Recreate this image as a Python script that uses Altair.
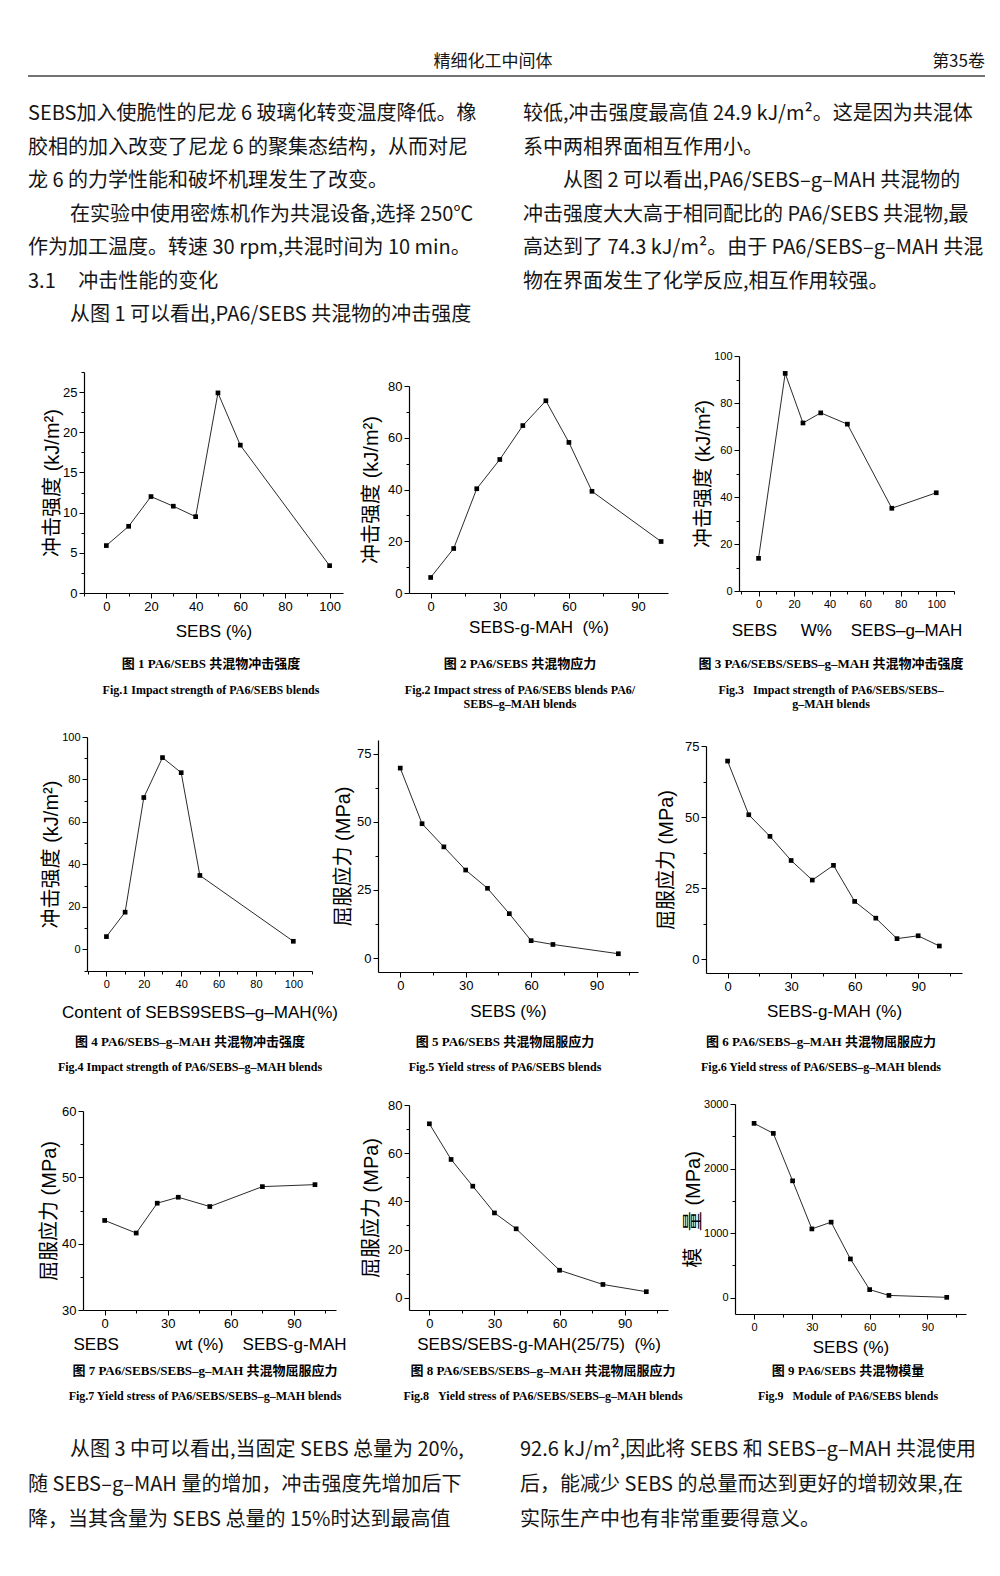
import math
import altair as alt
import pandas as pd

CJK = "Noto Sans CJK SC"
SANS = "Liberation Sans, Noto Sans CJK SC"
SERIF = "Liberation Serif, Noto Sans CJK SC"
NB = "\u00a0"

# ---------------- page text ----------------
header_center = ["精细化工中间体"]
header_right = ["第35卷"]

top_left_lines = [
    "SEBS加入使脆性的尼龙 6 玻璃化转变温度降低。橡",
    "胶相的加入改变了尼龙 6 的聚集态结构，从而对尼",
    "龙 6 的力学性能和破坏机理发生了改变。",
    "在实验中使用密炼机作为共混设备,选择 250℃",
    "作为加工温度。转速 30 rpm,共混时间为 10 min。",
    "3.1" + NB * 5 + "冲击性能的变化",
    "从图 1 可以看出,PA6/SEBS 共混物的冲击强度",
]
top_left_indent = [0, 0, 0, 1, 0, 0, 1]
top_right_lines = [
    "较低,冲击强度最高值 24.9 kJ/m²。这是因为共混体",
    "系中两相界面相互作用小。",
    "从图 2 可以看出,PA6/SEBS–g–MAH 共混物的",
    "冲击强度大大高于相同配比的 PA6/SEBS 共混物,最",
    "高达到了 74.3 kJ/m²。由于 PA6/SEBS–g–MAH 共混",
    "物在界面发生了化学反应,相互作用较强。",
]
top_right_indent = [0, 0, 1, 0, 0, 0]
bottom_left_lines = [
    "从图 3 中可以看出,当固定 SEBS 总量为 20%,",
    "随 SEBS–g–MAH 量的增加，冲击强度先增加后下",
    "降，当其含量为 SEBS 总量的 15%时达到最高值",
]
bottom_left_indent = [1, 0, 0]
bottom_right_lines = [
    "92.6 kJ/m²,因此将 SEBS 和 SEBS–g–MAH 共混使用",
    "后，能减少 SEBS 的总量而达到更好的增韧效果,在",
    "实际生产中也有非常重要得意义。",
]
bottom_right_indent = [0, 0, 0]

# ---------------- chart data ----------------
c1_x = [0, 10, 20, 30, 40, 50, 60, 100]
c1_y = [5.9, 8.3, 12.0, 10.8, 9.5, 24.9, 18.4, 3.4]
c2_x = [0, 10, 20, 30, 40, 50, 60, 70, 100]
c2_y = [6.0, 17.2, 40.3, 51.6, 64.7, 74.3, 58.2, 39.3, 19.9]
c3_x = [0, 15, 25, 35, 50, 75, 100]
c3_y = [13.9, 92.6, 71.5, 75.8, 71.0, 35.2, 41.8]
c4_x = [0, 10, 20, 30, 40, 50, 100]
c4_y = [6.0, 17.5, 71.5, 90.3, 83.2, 34.8, 3.8]
c5_x = [0, 10, 20, 30, 40, 50, 60, 70, 100]
c5_y = [69.7, 49.3, 40.8, 32.3, 25.6, 16.3, 6.4, 5.0, 1.6]
c6_x = [0, 10, 20, 30, 40, 50, 60, 70, 80, 90, 100]
c6_y = [69.7, 50.8, 43.2, 34.7, 27.8, 33.0, 20.3, 14.4, 7.2, 8.2, 4.6]
c7_x = [0, 15, 25, 35, 50, 75, 100]
c7_y = [43.5, 41.6, 46.1, 47.0, 45.6, 48.6, 48.9]
c8_x = [0, 10, 20, 30, 40, 60, 80, 100]
c8_y = [72.2, 57.4, 46.3, 35.2, 28.6, 11.4, 5.5, 2.5]
c9_x = [0, 10, 20, 30, 40, 50, 60, 70, 100]
c9_y = [2700, 2545, 1810, 1065, 1170, 600, 125, 35, 5]

y_impact = "冲击强度 (kJ/m²)"
y_yield = "屈服应力 (MPa)"
y_mod = "模" + NB * 3 + "量 (MPa)"

x_titles = [
    "SEBS (%)",
    "SEBS-g-MAH" + NB * 2 + "(%)",
    "SEBS" + NB * 5 + "W%" + NB * 4 + "SEBS–g–MAH",
    "Content of SEBS9SEBS–g–MAH(%)",
    "SEBS (%)",
    "SEBS-g-MAH (%)",
    "SEBS" + NB * 12 + "wt (%)" + NB * 4 + "SEBS-g-MAH",
    "SEBS/SEBS-g-MAH(25/75)" + NB * 2 + "(%)",
    "SEBS (%)",
]
cap_cn = [
    "图 1  PA6/SEBS 共混物冲击强度",
    "图 2  PA6/SEBS 共混物应力",
    "图 3   PA6/SEBS/SEBS–g–MAH 共混物冲击强度",
    "图 4  PA6/SEBS–g–MAH 共混物冲击强度",
    "图 5  PA6/SEBS 共混物屈服应力",
    "图 6  PA6/SEBS–g–MAH 共混物屈服应力",
    "图 7  PA6/SEBS/SEBS–g–MAH 共混物屈服应力",
    "图 8  PA6/SEBS/SEBS–g–MAH 共混物屈服应力",
    "图 9  PA6/SEBS 共混物模量",
]
cap_en = [
    ["Fig.1 Impact strength of PA6/SEBS blends"],
    ["Fig.2  Impact stress of PA6/SEBS blends PA6/", "SEBS–g–MAH blends"],
    ["Fig.3" + NB * 3 + "Impact strength of PA6/SEBS/SEBS–", "g–MAH blends"],
    ["Fig.4  Impact strength of PA6/SEBS–g–MAH blends"],
    ["Fig.5  Yield stress of PA6/SEBS blends"],
    ["Fig.6  Yield stress of PA6/SEBS–g–MAH blends"],
    ["Fig.7 Yield stress of PA6/SEBS/SEBS–g–MAH blends"],
    ["Fig.8" + NB * 3 + "Yield stress of PA6/SEBS/SEBS–g–MAH blends"],
    ["Fig.9" + NB * 3 + "Module of PA6/SEBS blends"],
]

# ---------------- layout (page pixels) ----------------
W, H, M = 984, 1560, 8
# plot rectangles: left, right, top, bottom
GEOM = [
    (84, 343, 372, 593), (409, 668, 386, 593), (739, 954, 356, 591),
    (87, 312, 737, 971), (378, 638, 740, 972), (706, 962, 746, 973),
    (83, 336, 1111, 1310), (409, 668, 1105, 1310), (735, 966, 1104, 1314),
]
CAP_CX = [211, 520, 831, 190, 505, 821, 205, 543, 848]
CAP_CN_Y = [664, 664, 664, 1042, 1042, 1042, 1371, 1371, 1371]
CAP_EN_Y = [690, 690, 690, 1067, 1067, 1067, 1396, 1396, 1396]


def tick_values(lo, hi, step):
    k = math.ceil(lo / step - 1e-9)
    vals = []
    while k * step <= hi + 1e-9:
        vals.append(round(k * step, 6))
        k += 1
    return vals


def make_axis(domain, major, minor, title, tp, orient, offset, lfs):
    return alt.Axis(
        values=tick_values(domain[0], domain[1], minor),
        labelExpr=f"abs(datum.value % {major}) < 0.000001 ? datum.label : ''",
        tickSize={"condition": {"test": f"abs(datum.value % {major}) > 0.000001", "value": 3}, "value": 5},
        format="d", title=title, titlePadding=tp, grid=False, labelFontSize=lfs,
        labelOverlap=False, labelFlush=False, orient=orient, offset=offset,
    )


def make_plot(i, xs, ys, xd, yd, xmaj, xmin, ymaj, ymin, ytitle, xtp, ytp, lfs=13):
    L, R, T, B = GEOM[i]
    df = pd.DataFrame({"x": xs, "y": ys})
    base = alt.Chart(df).encode(
        x=alt.X("x:Q", scale=alt.Scale(domain=xd, range=[L - M, R - M], nice=False, zero=False),
                axis=make_axis(xd, xmaj, xmin, x_titles[i], xtp, "bottom", (B - M) - H, lfs)),
        y=alt.Y("y:Q", scale=alt.Scale(domain=yd, range=[B - M, T - M], nice=False, zero=False),
                axis=make_axis(yd, ymaj, ymin, ytitle, ytp, "left", -(L - M), lfs)),
    )
    line = base.mark_line(color="#2b2b2b", strokeWidth=1)
    pts = base.mark_point(shape="square", filled=True, size=22, color="black", opacity=1)
    return alt.layer(line, pts)


def text_layer(left, left_ind, right, right_ind, x_left, x_right, y_first, y_step):
    rows = []
    for k, (t, ind) in enumerate(zip(left, left_ind)):
        rows.append({"px": x_left + 42 * ind, "py": y_first + k * y_step, "t": t})
    for k, (t, ind) in enumerate(zip(right, right_ind)):
        rows.append({"px": x_right + 40 * ind, "py": y_first + k * y_step, "t": t})
    return alt.Chart(pd.DataFrame(rows)).mark_text(
        align="left", baseline="middle", font=CJK, fontSize=20, color="#151515"
    ).encode(x=alt.X("px:Q", scale=None), y=alt.Y("py:Q", scale=None), text="t:N")


# ---------------- page text layers ----------------
top_body = text_layer(top_left_lines, top_left_indent, top_right_lines, top_right_indent,
                      28 - M, 523 - M, 114 - M, 33.5)
bottom_body = text_layer(bottom_left_lines, bottom_left_indent, bottom_right_lines, bottom_right_indent,
                         28 - M, 520 - M, 1450 - M, 35)
hdr_c = alt.Chart(pd.DataFrame({"t": header_center})).mark_text(
    align="center", baseline="middle", font=CJK, fontSize=17, color="#151515"
).encode(text="t:N", x=alt.value(493 - M), y=alt.value(62 - M))
hdr_r = alt.Chart(pd.DataFrame({"t": header_right})).mark_text(
    align="right", baseline="middle", font=CJK, fontSize=17, color="#151515"
).encode(text="t:N", x=alt.value(985 - M), y=alt.value(62 - M))
hdr_rule = alt.Chart(pd.DataFrame({"t": [0]})).mark_rule(color="#444", strokeWidth=1.5).encode(
    x=alt.value(28 - M), x2=alt.value(985 - M), y=alt.value(76 - M)
)

# ---------------- captions ----------------
cn_rows = [{"px": CAP_CX[i] - M, "py": CAP_CN_Y[i] - M, "t": cap_cn[i]} for i in range(9)]
en_rows = []
for i in range(9):
    for k, t in enumerate(cap_en[i]):
        en_rows.append({"px": CAP_CX[i] - M, "py": CAP_EN_Y[i] - M + 14 * k, "t": t})
cap_cn_layer = alt.Chart(pd.DataFrame(cn_rows)).mark_text(
    align="center", baseline="middle", font=SERIF, fontSize=13, fontWeight="bold", color="black"
).encode(x=alt.X("px:Q", scale=None), y=alt.Y("py:Q", scale=None), text="t:N")
cap_en_layer = alt.Chart(pd.DataFrame(en_rows)).mark_text(
    align="center", baseline="middle", font=SERIF, fontSize=12, fontWeight="bold", color="black"
).encode(x=alt.X("px:Q", scale=None), y=alt.Y("py:Q", scale=None), text="t:N")

# ---------------- plots ----------------
p1 = make_plot(0, c1_x, c1_y, [-10, 106], [0, 27.5], 20, 10, 5, 2.5, y_impact, 10, 0)
p2 = make_plot(1, c2_x, c2_y, [-9.4, 103], [0, 80], 30, 15, 20, 10, y_impact, 6, 6)
p3 = make_plot(2, c3_x, c3_y, [-11, 110], [0, 100], 20, 10, 20, 10, y_impact, 13, 0, 11)
p4 = make_plot(3, c4_x, c4_y, [-10.4, 110], [-10.2, 100], 20, 10, 20, 10, y_impact, 15, 0, 11)
p5 = make_plot(4, c5_x, c5_y, [-10.2, 109], [-5.1, 80], 30, 15, 25, 12.5, y_yield, 11, 3)
p6 = make_plot(5, c6_x, c6_y, [-10.2, 110.7], [-4.9, 75], 30, 15, 25, 12.5, y_yield, 10, 8)
p7 = make_plot(6, c7_x, c7_y, [-10.3, 110], [30, 60], 30, 15, 10, 5, y_yield, 6, 2)
p8 = make_plot(7, c8_x, c8_y, [-9.4, 110], [-5.1, 80], 30, 15, 20, 10, y_yield, 6, 6)
p9 = make_plot(8, c9_x, c9_y, [-9.9, 110], [-253, 3000], 30, 15, 1000, 500, y_mod, 7, 0, 11)

chart = alt.layer(
    top_body, hdr_c, hdr_r, hdr_rule,
    p1, p2, p3, p4, p5, p6, p7, p8, p9,
    cap_cn_layer, cap_en_layer, bottom_body,
).resolve_scale(x="independent", y="independent").resolve_axis(
    x="independent", y="independent"
).properties(width=W, height=H, padding=0, background="white").configure_view(
    stroke=None
).configure_axis(
    domainColor="black", domainWidth=1.2, tickColor="black", tickWidth=1,
    labelFont="Liberation Sans", labelFontSize=13, labelColor="black", labelPadding=2,
    titleFont=SANS, titleFontWeight="normal", titleColor="black",
).configure_axisX(titleFontSize=17).configure_axisY(titleFontSize=20)

chart.save("out.html", embed_options={"renderer": "svg", "actions": False})
